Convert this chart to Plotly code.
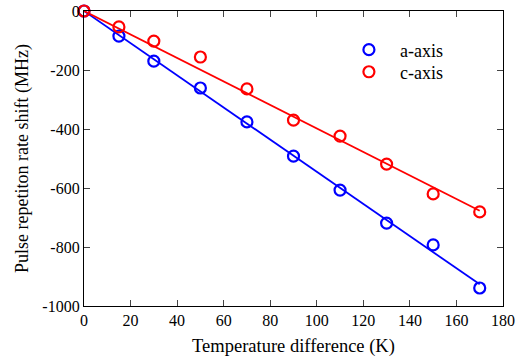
import numpy as np
import plotly.graph_objects as go

temp = [0, 15, 30, 50, 70, 90, 110, 130, 150, 170]
a_axis = [0, -85, -170, -261, -376, -492, -607, -719, -793, -939]
c_axis = [0, -54, -102, -156, -264, -370, -424, -519, -620, -681]
x_ticks = [0, 20, 40, 60, 80, 100, 120, 140, 160, 180]
y_ticks = [0, -200, -400, -600, -800, -1000]
y_labels = ["0", "-200", "-400", "-600", "-800", "-1000"]

def fit_through_origin(x, y):
    x = np.array(x, float); y = np.array(y, float)
    return (x * y).sum() / (x * x).sum()

SERIF = "Liberation Serif, Times New Roman, DejaVu Serif, serif"

fit_x = [0, 170]
fig = go.Figure()
series = [("a-axis", a_axis, "#0000ff", "legend"), ("c-axis", c_axis, "#ff0000", "legend2")]
for name, vals, col, lg in series:
    s = fit_through_origin(temp, vals)
    fig.add_trace(go.Scatter(x=fit_x, y=[s * v for v in fit_x], mode="lines",
                             line=dict(color=col, width=1.8), showlegend=False, hoverinfo="skip",
                             cliponaxis=False))
for name, vals, col, lg in series:
    fig.add_trace(go.Scatter(x=temp, y=vals, mode="markers", name=name, cliponaxis=False,
                             legend=lg,
                             marker=dict(symbol="circle-open", size=11, color=col,
                                         line=dict(width=2.2, color=col))))

leg = dict(xanchor="left", yanchor="middle", bgcolor="rgba(0,0,0,0)",
           font=dict(family=SERIF, size=18), itemwidth=52)
fig.update_layout(
    width=516, height=360, autosize=False,
    margin=dict(l=84, r=13, t=11, b=54, autoexpand=False),
    paper_bgcolor="white", plot_bgcolor="white",
    font=dict(family=SERIF, size=16, color="black"),
    legend=dict(leg, x=0.606, y=0.868),
    legend2=dict(leg, x=0.606, y=0.793),
    xaxis=dict(range=[0, 180], tickvals=x_ticks, ticks="inside", ticklen=6, tickwidth=1.3,
               showline=True, linecolor="black", linewidth=1.3, mirror="allticks",
               showgrid=False, zeroline=False, automargin=False, ticklabeloverflow="allow",
               tickfont=dict(family=SERIF, size=16),
               title=dict(text="Temperature difference (K)",
                          font=dict(family=SERIF, size=18.5), standoff=10)),
    yaxis=dict(range=[-1000, 0], tickvals=y_ticks, ticktext=y_labels, ticks="inside", ticklen=6,
               tickwidth=1.3, showline=True, linecolor="black", linewidth=1.3, mirror="allticks",
               showgrid=False, zeroline=False, automargin=False, ticklabeloverflow="allow",
               tickfont=dict(family=SERIF, size=16),
               title=dict(text="Pulse repetiton rate shift (MHz)",
                          font=dict(family=SERIF, size=18), standoff=9)),
)
fig.write_html("out.html", config={"displayModeBar": False},
               post_script="document.body.style.margin='0px';")
